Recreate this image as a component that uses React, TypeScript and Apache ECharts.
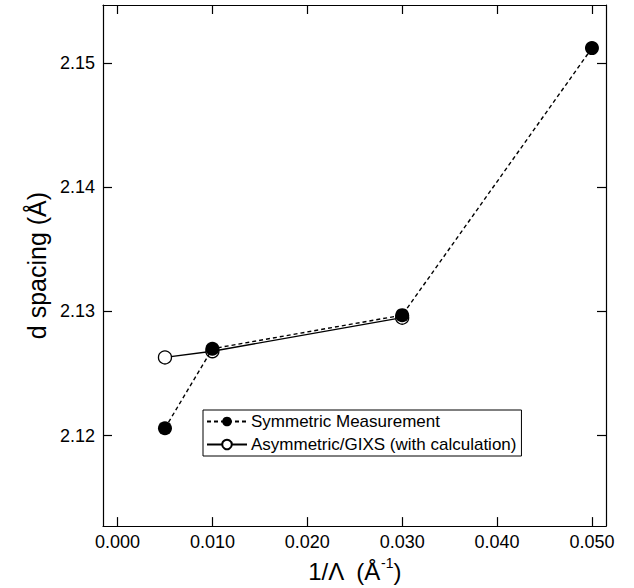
import React, { useEffect, useRef } from "react";
import * as echarts from "echarts";

// Inverse penetration depth 1/Λ (Å⁻¹) and measured d spacing (Å)
const symX = [0.005, 0.01, 0.03, 0.05];
const symD = [2.1206, 2.127, 2.1297, 2.1512];
const asymX = [0.005, 0.01, 0.03];
const asymD = [2.1263, 2.1268, 2.1295];

const xTicks = [0, 0.01, 0.02, 0.03, 0.04, 0.05];
const yTicks = [2.12, 2.13, 2.14, 2.15];

const SYM_NAME = "Symmetric Measurement";
const ASYM_NAME = "Asymmetric/GIXS (with calculation)";

const FONT = "'Liberation Sans', Arial, Helvetica, sans-serif";

const X_MIN = -0.00153;
const X_MAX = 0.05148;
const Y_MIN = 2.11272;
const Y_MAX = 2.15467;

export default function App() {
  const ref = useRef<HTMLDivElement>(null);

  useEffect(() => {
    if (!ref.current) return;
    const chart = echarts.init(ref.current, undefined, { renderer: "svg" });

    const axisLine = { show: true, onZero: false, lineStyle: { color: "#000", width: 1.2 } };
    const tick = (vals: number[]) => ({
      show: true,
      inside: true,
      length: 9,
      customValues: vals,
      lineStyle: { color: "#000", width: 1.2 },
    });

    chart.setOption({
      animation: false,
      backgroundColor: "#fff",
      textStyle: { fontFamily: FONT },
      grid: { left: 103, top: 5, right: 28, bottom: 53 },
      legend: {
        data: [SYM_NAME, ASYM_NAME],
        orient: "vertical",
        left: 203,
        top: 410,
        backgroundColor: "#fff",
        borderColor: "#000",
        borderWidth: 1,
        borderRadius: 0,
        padding: [3, 5, 3, 3],
        itemGap: 6,
        itemWidth: 40,
        itemHeight: 12,
        textStyle: { fontSize: 17, color: "#000", fontFamily: FONT, padding: [0, 0, 0, -1] },
      },
      xAxis: [
        {
          type: "value",
          min: X_MIN,
          max: X_MAX,
          position: "bottom",
          axisLine,
          axisTick: tick(xTicks),
          splitLine: { show: false },
          axisLabel: {
            customValues: xTicks,
            formatter: (v: number) => v.toFixed(3),
            color: "#000",
            fontSize: 18,
            fontFamily: FONT,
            margin: 7,
          },
          name: "{a|1/Λ  (Å}{sup|-1}{a|)}",
          nameLocation: "middle",
          nameGap: 26,
          nameTextStyle: {
            rich: {
              a: { fontSize: 24, color: "#000", fontFamily: FONT, lineHeight: 30 },
              sup: { fontSize: 14, color: "#000", fontFamily: FONT, verticalAlign: "top", lineHeight: 30 },
            },
          },
        },
        {
          type: "value",
          min: X_MIN,
          max: X_MAX,
          position: "top",
          axisLine,
          axisTick: tick(xTicks),
          axisLabel: { show: false },
          splitLine: { show: false },
        },
      ],
      yAxis: [
        {
          type: "value",
          min: Y_MIN,
          max: Y_MAX,
          position: "left",
          axisLine,
          axisTick: tick(yTicks),
          splitLine: { show: false },
          axisLabel: {
            customValues: yTicks,
            formatter: (v: number) => v.toFixed(2),
            color: "#000",
            fontSize: 18,
            fontFamily: FONT,
            margin: 8,
          },
          name: "d spacing (Å)",
          nameLocation: "middle",
          nameGap: 52,
          nameTextStyle: { fontSize: 25, color: "#000", fontFamily: FONT },
        },
        {
          type: "value",
          min: Y_MIN,
          max: Y_MAX,
          position: "right",
          axisLine,
          axisTick: tick(yTicks),
          axisLabel: { show: false },
          splitLine: { show: false },
        },
      ],
      series: [
        {
          name: ASYM_NAME,
          type: "line",
          xAxisIndex: 0,
          yAxisIndex: 0,
          data: asymX.map((x, i) => [x, asymD[i]]),
          symbol: "circle",
          symbolSize: 13,
          lineStyle: { color: "#000", width: 1.4, type: "solid" },
          itemStyle: { color: "#fff", borderColor: "#000", borderWidth: 1.3 },
          z: 2,
        },
        {
          name: SYM_NAME,
          type: "line",
          xAxisIndex: 0,
          yAxisIndex: 0,
          data: symX.map((x, i) => [x, symD[i]]),
          symbol: "circle",
          symbolSize: 14,
          lineStyle: { color: "#000", width: 1.4, type: [4, 3] },
          itemStyle: { color: "#000" },
          z: 3,
        },
      ],
    });

    return () => chart.dispose();
  }, []);

  return (
    <div
      ref={ref}
      style={{ position: "fixed", left: 0, top: 0, width: 634, height: 588 }}
    />
  );
}
